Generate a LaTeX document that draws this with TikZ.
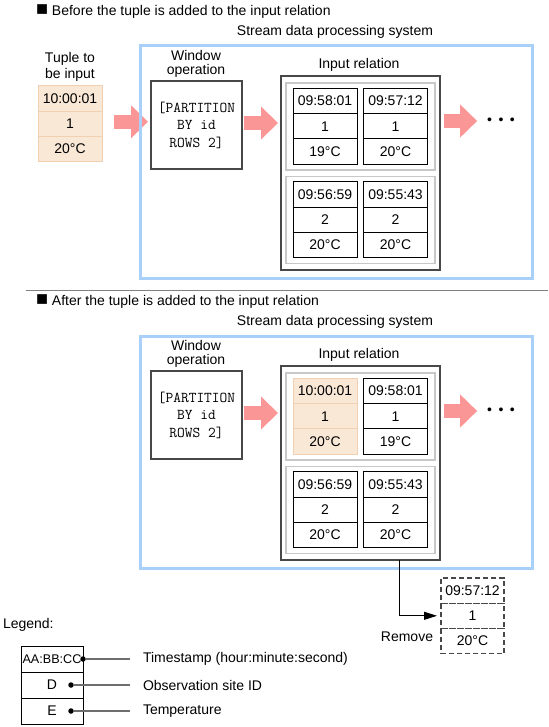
\documentclass[tikz,border=0pt]{standalone}
\usepackage{fontspec}
\setmainfont{Liberation Sans}
\usetikzlibrary{arrows.meta,positioning,calc}
\definecolor{sysblue}{RGB}{168,208,248}
\definecolor{fatpink}{RGB}{250,150,150}
\definecolor{newfill}{RGB}{250,232,214}
\definecolor{newline}{RGB}{240,208,176}
\definecolor{grpgray}{RGB}{200,200,200}
\definecolor{boxgray}{RGB}{72,72,72}
\definecolor{legray}{RGB}{110,110,110}
\tikzset{main base/.style={inner sep=0pt,outer sep=0pt,text centered,font=\fontsize{14}{16}\selectfont}, }
\tikzset{cell/.style={rectangle,draw,line width=1pt,main base,minimum width=64pt,minimum height=25.3pt}, }
\tikzset{cellnew/.style={cell,draw=newline,fill=newfill}, }
\tikzset{cellgone/.style={cell,draw=boxgray,line width=1.3pt,dash pattern=on 5pt off 3pt,minimum width=63pt}, }
\tikzset{opbox/.style={rectangle,draw=boxgray,line width=1.5pt,main base}, }
\tikzset{grp/.style={rectangle,draw=grpgray,line width=1.5pt,main base,minimum width=149pt,minimum height=87pt}, }
\tikzset{system/.style={rectangle,draw=sysblue,line width=3pt,main base,minimum width=392pt,minimum height=232pt}, }
\tikzset{wintext/.style={font=\ttfamily\fontsize{15}{17.5}\selectfont,align=center,minimum width=91pt,minimum height=88pt}, }
\tikzset{linea/.style={line width=14pt,fatpink,-{Triangle[length=17pt,width=32pt]}}}
\tikzset{linea2/.style={line width=1pt,black,-{Triangle[length=13pt,width=8pt]}}}
\tikzset{legline/.style={line width=1.5pt,legray}}
\tikzset{dotp/.style={circle,fill=black,inner sep=0pt,minimum size=5.5pt}, }
\newcommand{\headsq}{{\fontsize{20}{16}\selectfont ■}}

\begin{document}
\begin{tikzpicture}[x=1pt,y=-1pt]
\useasboundingbox (0,0) rectangle (548,727);
%% tuples
\foreach \n/\x/\y/\st/\t/\i/\c in {inp/70/98.5/cellnew/10:00:01/1/20°C,
    ra/325/101/cell/09:58:01/1/19°C, rb/395.5/101/cell/09:57:12/1/20°C,
    rc/325/194.5/cell/09:56:59/2/20°C, rd/395.5/194.5/cell/09:55:43/2/20°C,
    sa/325/391/cellnew/10:00:01/1/20°C, sb/395.5/391/cell/09:58:01/1/19°C,
    sc/325/484.5/cell/09:56:59/2/20°C, sd/395.5/484.5/cell/09:55:43/2/20°C,
    gone/472.5/590.5/cellgone/09:57:12/1/20°C}
{
  \node[\st] (\n1) at (\x,\y) {\t};
  \node[\st,below=0pt of \n1] (\n2) {\i};
  \node[\st,below=0pt of \n2] (\n3) {\c};
}
%% before
\node[main base,anchor=west] (head1) at (36,12) {\headsq\ Before the tuple is added to the input relation};
\node[main base] (sys1) at (335,32) {Stream data processing system};
\node[main base,align=center] (inplab) at (70,67) {Tuple to\\be input};
\node[main base,align=center,font=\fontsize{14}{14}\selectfont] (winlab1) at (196,64) {Window\\operation};
\node[opbox,wintext] (win1) at (196.5,125) {[PARTITION\\BY id\\ROWS 2]};
\node[main base] (rellab1) at (359,65) {Input relation};
\node[opbox,minimum width=159pt,minimum height=194pt] (rel1) at (360.5,173) {};
\node[grp] (g1a) at (360.5,126.5) {};
\node[grp] (g1b) at (360.5,220) {};
\node[main base] (more1) at (501,121) {•\hspace{6.5pt}•\hspace{6.5pt}•};
\draw[linea] ($(inp2.east)+(12,-2)$) -- ($(inp2.east -| win1.west)+(-3,-2)$);
\draw[linea] ($(win1.east)+(2,-2)$) -- ($(win1.east -| rel1.west)+(-3,-2)$);
\draw[linea] ($(rel1.east |- more1.west)+(4,0)$) -- ($(more1.west)+(-10,0)$);
\node[system] (box1) at (336,162) {};
%
\coordinate (sepa) at (26,290);
\coordinate (sepb) at (548,290);
\draw[line width=1pt,gray] (sepa) -- (sepb);
%% after
\node[main base,anchor=west] (head2) at (36,302) {\headsq\ After the tuple is added to the input relation};
\node[main base] (sys2) at (335,322) {Stream data processing system};
\node[main base,align=center,font=\fontsize{14}{14}\selectfont] (winlab2) at (196,354) {Window\\operation};
\node[opbox,wintext] (win2) at (196.5,415) {[PARTITION\\BY id\\ROWS 2]};
\node[main base] (rellab2) at (359,355) {Input relation};
\node[opbox,minimum width=159pt,minimum height=194pt] (rel2) at (360.5,463) {};
\node[grp] (g2a) at (360.5,416.5) {};
\node[grp] (g2b) at (360.5,510) {};
\node[main base] (more2) at (501,411) {•\hspace{6.5pt}•\hspace{6.5pt}•};
\draw[linea] ($(win2.east)+(2,-2)$) -- ($(win2.east -| rel2.west)+(-3,-2)$);
\draw[linea] ($(rel2.east |- more2.west)+(4,0)$) -- ($(more2.west)+(-10,0)$);
\node[system] (box2) at (336,452) {};
%
\draw[linea2] ($(rel2.south)+(38.5,0)$) |- ($(gone2.west)+(-4,0)$);
\node[main base] (rm) at (407,637) {Remove};
%% legend
\node[main base,anchor=west] (leg) at (3,625) {Legend:};
\node[cell,minimum width=62pt,minimum height=26pt,font=\fontsize{12.6}{14}\selectfont] (lg1) at (52,659) {AA:BB:CC};
\node[cell,minimum width=62pt,minimum height=26pt,below=0pt of lg1] (lg2) {D};
\node[cell,minimum width=62pt,minimum height=26pt,below=0pt of lg2] (lg3) {E};
\node[dotp] (p1) at (lg1.east) {};
\node[dotp] (p2) at ($(lg2.center)+(19,0)$) {};
\node[dotp] (p3) at ($(lg3.center)+(19,0)$) {};
\coordinate (lx) at (143,0);
\node[main base,anchor=west] (ts) at (p1 -| lx) {Timestamp (hour:minute:second)};
\node[main base,anchor=west] (site) at (p2 -| lx) {Observation site ID};
\node[main base,anchor=west] (temp) at (p3 -| lx) {Temperature};
\foreach \x/\y in {p1/ts,p2/site,p3/temp}
  \draw[legline] (\x) -- ($(\y.west)+(-13,0)$);
%
\end{tikzpicture}
\end{document}
